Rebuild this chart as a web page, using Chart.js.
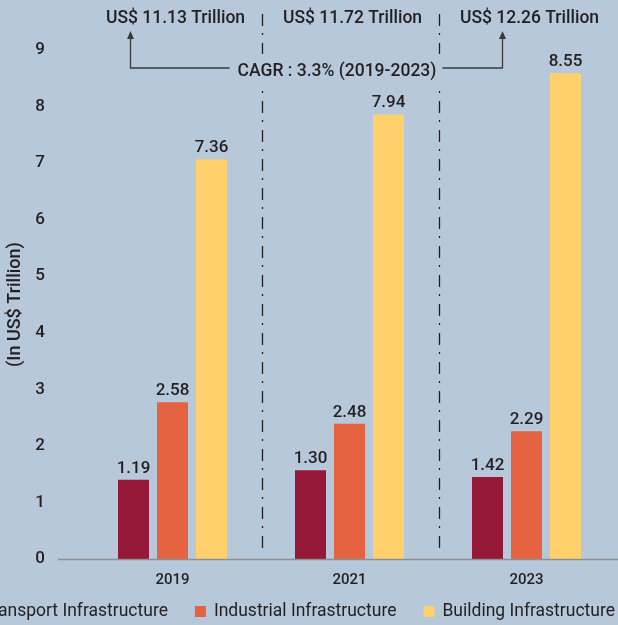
<!DOCTYPE html>
<html>
<head>
<meta charset="utf-8">
<script src="https://cdn.jsdelivr.net/npm/chart.js@4.4.1/dist/chart.umd.min.js"></script>
<style>
  html, body { margin: 0; padding: 0; background: #b7c8da; }
  #wrap { width: 618px; height: 625px; position: relative; }
</style>
</head>
<body>
<div id="wrap"><canvas id="infra-size"></canvas></div>
<script>
const years = ['2019', '2021', '2023'];
const seriesNames = ['Transport Infrastructure', 'Industrial Infrastructure', 'Building Infrastructure'];
const seriesColors = ['#951838', '#e66341', '#ffd06b'];

// bar heights as they are drawn in the source (it does not draw them to the printed values)
const transport = [1.40, 1.57, 1.45];
const industrial = [2.77, 2.39, 2.26];
const building = [7.07, 7.86, 8.59];

// values printed above the bars
const transportLabels = ['1.19', '1.30', '1.42'];
const industrialLabels = ['2.58', '2.48', '2.29'];
const buildingLabels = ['7.36', '7.94', '8.55'];

const totals = ['US$ 11.13 Trillion', 'US$ 11.72 Trillion', 'US$ 12.26 Trillion'];
const cagrText = 'CAGR : 3.3% (2019-2023)';

const ink = '#231f20';
const FONT = 'Roboto';

const barLabels = [transportLabels, industrialLabels, buildingLabels];

const overlay = {
    id: 'overlay',
    afterDatasetsDraw(chart) {
        const c = chart.ctx;
        const xs = chart.scales.x;
        const area = chart.chartArea;
        const cx = years.map((y, i) => xs.getPixelForValue(i));

        c.save();
        // baseline
        c.strokeStyle = '#8c8f94';
        c.lineWidth = 1.5;
        c.beginPath();
        c.moveTo(58, area.bottom + 0.5);
        c.lineTo(chart.width, area.bottom + 0.5);
        c.stroke();

        // dash-dot separators
        c.strokeStyle = ink;
        c.lineWidth = 1.3;
        c.setLineDash([12, 7, 2, 8]);
        for (let i = 0; i < cx.length - 1; i++) {
            const sx = Math.round((cx[i] + cx[i + 1]) / 2) + 1.5;
            c.beginPath();
            c.moveTo(sx, 14);
            c.lineTo(sx, area.bottom - 8);
            c.stroke();
        }
        c.setLineDash([]);

        // numbers on bars
        c.fillStyle = ink;
        c.font = '500 17px ' + FONT;
        c.textAlign = 'center';
        c.textBaseline = 'bottom';
        chart.data.datasets.forEach((ds, di) => {
            chart.getDatasetMeta(di).data.forEach((bar, i) => {
                c.fillText(barLabels[di][i], bar.x, bar.y - 3);
            });
        });

        // totals on top
        c.font = '500 17.5px ' + FONT;
        c.textBaseline = 'middle';
        totals.forEach((t, i) => c.fillText(t, cx[i] + 3, 19));

        // CAGR bracket
        const yLine = 68;
        const left = cx[0] - 42, right = cx[2] - 24;
        const tw = c.measureText(cagrText).width;
        const tx = 337;
        c.fillStyle = '#b7c8da';
        c.fillRect(tx - tw / 2 - 8, yLine - 14, tw + 16, 30);
        c.fillStyle = ink;
        c.fillText(cagrText, tx, yLine + 4);

        c.strokeStyle = '#3a3a3c';
        c.lineWidth = 1.3;
        c.beginPath();
        c.moveTo(left, 36);
        c.lineTo(left, yLine);
        c.lineTo(tx - tw / 2 - 8, yLine);
        c.moveTo(tx + tw / 2 + 6, yLine);
        c.lineTo(right, yLine);
        c.lineTo(right, 37);
        c.stroke();
        c.fillStyle = '#3a3a3c';
        [left, right].forEach(ax => {
            c.beginPath();
            c.moveTo(ax, 31);
            c.lineTo(ax - 3.5, 39);
            c.lineTo(ax + 3.5, 39);
            c.closePath();
            c.fill();
        });

        // legend, right aligned, runs off the left edge like the source
        c.font = '17.5px ' + FONT;
        c.textAlign = 'left';
        c.textBaseline = 'middle';
        const box = 11, gap = 8, between = 27;
        const widths = seriesNames.map(n => c.measureText(n).width);
        let total = widths.reduce((a, b) => a + b, 0) + seriesNames.length * (box + gap) + between * (seriesNames.length - 1);
        let lx = 615 - total;
        const ly = 612;
        seriesNames.forEach((n, i) => {
            c.fillStyle = seriesColors[i];
            c.fillRect(lx, ly - 6, box, box);
            c.fillStyle = ink;
            c.fillText(n, lx + box + gap, ly);
            lx += box + gap + widths[i] + between;
        });
        c.restore();
    }
};

const chart = new Chart(document.getElementById('infra-size'), {
    type: 'bar',
    data: {
        labels: years,
        datasets: [
            { label: seriesNames[0], data: transport, backgroundColor: seriesColors[0] },
            { label: seriesNames[1], data: industrial, backgroundColor: seriesColors[1] },
            { label: seriesNames[2], data: building, backgroundColor: seriesColors[2] }
        ]
    },
    options: {
        responsive: true,
        maintainAspectRatio: false,
        animation: false,
        categoryPercentage: 0.661,
        barPercentage: 0.795,
        layout: { padding: { top: 50, right: 3, bottom: 37, left: 0 } },
        plugins: {
            legend: { display: false },
            tooltip: { enabled: false }
        },
        scales: {
            x: {
                grid: { display: false, drawTicks: false },
                border: { display: false },
                ticks: { padding: 12, color: ink, font: { family: FONT, size: 15, weight: '500' } },
                afterFit: s => { s.height = 29; }
            },
            y: {
                min: 0,
                max: 9,
                ticks: { stepSize: 1, padding: 39, color: ink, font: { family: FONT, size: 17, weight: '500' } },
                grid: { display: false, drawTicks: false },
                border: { display: false },
                title: {
                    display: true,
                    text: '(In US$ Trillion)',
                    color: ink,
                    font: { family: FONT, size: 18, weight: '500' },
                    padding: { top: 5, bottom: 0 }
                },
                afterFit: s => { s.width = 84; }
            }
        }
    },
    plugins: [overlay]
});
</script>
</body>
</html>
